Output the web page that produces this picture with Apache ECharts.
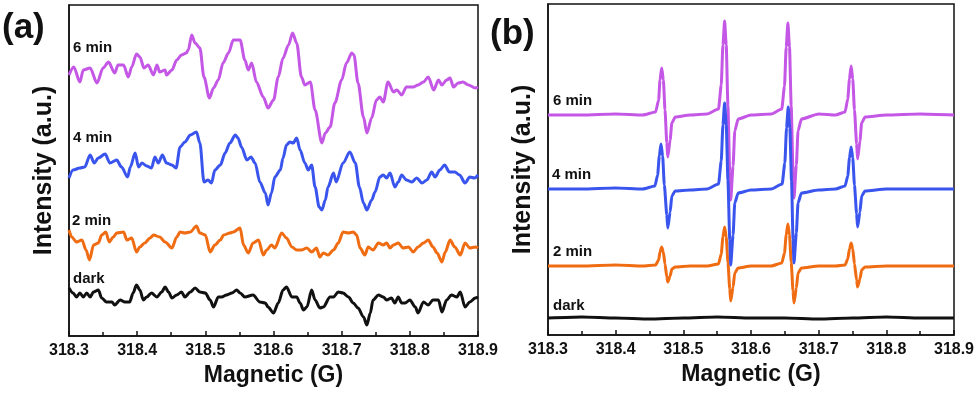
<!DOCTYPE html>
<html>
<head>
<meta charset="utf-8">
<script src="https://cdn.jsdelivr.net/npm/echarts@6/dist/echarts.min.js"></script>
<style>
html, body { margin: 0; padding: 0; background: #fff; }
#chart { width: 980px; height: 396px; }
</style>
</head>
<body>
<div id="chart"></div>
<script>
// x: magnetic field (G), y: intensity (a.u., offset traces)
var seriesNames = ['dark', '2 min', '4 min', '6 min'];
var xTicks = [318.3, 318.4, 318.5, 318.6, 318.7, 318.8, 318.9];

// panel (a)
var a6min = [[318.300,261],[318.307,269],[318.316,254],[318.321,266],[318.331,268],[318.341,253],[318.350,268],[318.358,274],
  [318.367,263],[318.372,271],[318.380,271],[318.387,259],[318.392,269],[318.399,282],[318.404,279],[318.410,268],[318.416,271],
  [318.424,261],[318.429,271],[318.433,264],[318.441,266],[318.443,261],[318.451,266],[318.458,276],[318.465,281],[318.472,283],
  [318.475,286],[318.480,301],[318.485,293],[318.492,288],[318.498,259],[318.506,238],[318.512,248],[318.519,256],[318.526,273],
  [318.534,283],[318.541,296],[318.551,296],[318.558,276],[318.563,266],[318.568,273],[318.575,254],[318.585,239],[318.592,228],
  [318.600,236],[318.607,259],[318.614,278],[318.622,291],[318.628,303],[318.634,293],[318.641,259],[318.646,251],[318.654,254],
  [318.661,226],[318.671,193],[318.676,203],[318.683,209],[318.690,233],[318.700,256],[318.707,273],[318.715,283],[318.718,281],
  [318.724,253],[318.732,219],[318.737,203],[318.744,218],[318.751,236],[318.756,239],[318.761,234],[318.768,254],[318.776,244],
  [318.781,246],[318.788,241],[318.795,249],[318.805,249],[318.812,251],[318.820,254],[318.827,259],[318.835,246],[318.842,256],
  [318.847,251],[318.854,256],[318.859,258],[318.864,249],[318.871,253],[318.878,254],[318.886,251],[318.896,248],[318.900,249]];
var a4min = [[318.300,158],[318.306,166],[318.316,168],[318.323,169],[318.331,181],[318.337,173],[318.343,178],[318.353,182],
  [318.360,173],[318.370,176],[318.377,169],[318.386,159],[318.390,169],[318.397,183],[318.402,169],[318.407,173],[318.414,170],
  [318.421,168],[318.426,179],[318.431,173],[318.437,181],[318.443,173],[318.451,171],[318.457,168],[318.463,189],[318.470,194],
  [318.478,201],[318.487,204],[318.492,193],[318.498,154],[318.504,156],[318.509,153],[318.514,166],[318.522,171],[318.529,183],
  [318.536,193],[318.544,201],[318.548,198],[318.553,189],[318.561,176],[318.567,179],[318.573,173],[318.580,154],[318.588,143],
  [318.592,131],[318.597,143],[318.602,159],[318.610,166],[318.614,178],[318.619,191],[318.624,194],[318.629,193],[318.634,198],
  [318.639,186],[318.646,173],[318.651,166],[318.656,171],[318.661,149],[318.667,129],[318.671,126],[318.676,136],[318.680,149],
  [318.688,163],[318.692,154],[318.702,173],[318.712,184],[318.720,173],[318.726,149],[318.732,133],[318.737,126],[318.744,136],
  [318.749,144],[318.756,159],[318.761,161],[318.766,158],[318.771,163],[318.778,149],[318.783,154],[318.788,161],[318.795,156],
  [318.803,154],[318.810,158],[318.818,153],[318.825,156],[318.832,164],[318.837,159],[318.844,166],[318.851,171],[318.858,164],
  [318.866,164],[318.873,161],[318.881,153],[318.888,159],[318.895,158],[318.900,161]];
var a2min = [[318.300,106],[318.304,99],[318.311,94],[318.319,96],[318.325,86],[318.330,76],[318.336,91],[318.343,93],[318.348,101],
  [318.354,104],[318.359,94],[318.365,99],[318.370,103],[318.380,104],[318.385,96],[318.392,98],[318.399,84],[318.404,89],
  [318.411,93],[318.419,98],[318.424,101],[318.433,99],[318.441,94],[318.451,88],[318.458,99],[318.463,104],[318.470,103],
  [318.478,104],[318.487,110],[318.492,103],[318.500,101],[318.507,84],[318.514,91],[318.522,96],[318.527,101],[318.536,103],
  [318.541,104],[318.551,108],[318.556,91],[318.563,83],[318.570,93],[318.578,96],[318.585,81],[318.590,86],[318.597,91],
  [318.602,88],[318.612,103],[318.619,98],[318.627,89],[318.634,86],[318.641,86],[318.649,88],[318.656,84],[318.663,88],
  [318.668,79],[318.673,83],[318.680,81],[318.688,86],[318.695,93],[318.702,104],[318.710,103],[318.717,104],[318.722,101],
  [318.727,88],[318.734,81],[318.739,89],[318.746,86],[318.754,93],[318.761,91],[318.766,93],[318.771,88],[318.776,91],
  [318.783,93],[318.790,88],[318.798,89],[318.805,84],[318.812,89],[318.820,93],[318.827,96],[318.834,89],[318.840,83],
  [318.847,74],[318.852,84],[318.859,96],[318.866,89],[318.874,81],[318.881,93],[318.888,88],[318.896,89],[318.900,88]];
var aDark = [[318.300,48],[318.306,43],[318.311,39],[318.316,43],[318.321,39],[318.326,43],[318.331,39],[318.336,44],[318.343,46],
  [318.348,38],[318.355,34],[318.363,34],[318.367,31],[318.375,36],[318.382,34],[318.389,34],[318.394,43],[318.399,51],
  [318.404,46],[318.409,36],[318.414,39],[318.421,43],[318.429,39],[318.436,44],[318.441,49],[318.446,44],[318.451,38],
  [318.458,41],[318.465,44],[318.470,39],[318.478,44],[318.485,48],[318.492,44],[318.500,43],[318.507,36],[318.512,29],
  [318.519,39],[318.524,39],[318.531,41],[318.539,43],[318.546,46],[318.551,43],[318.558,39],[318.570,41],[318.580,34],
  [318.588,33],[318.592,29],[318.600,23],[318.607,33],[318.614,46],[318.619,49],[318.627,39],[318.634,39],[318.639,33],
  [318.644,26],[318.649,29],[318.656,46],[318.661,36],[318.668,28],[318.673,29],[318.683,39],[318.688,39],[318.695,44],
  [318.702,43],[318.710,39],[318.717,33],[318.724,28],[318.732,19],[318.737,11],[318.742,23],[318.746,36],[318.754,41],
  [318.761,39],[318.766,36],[318.773,38],[318.778,33],[318.783,39],[318.788,33],[318.793,33],[318.800,36],[318.808,29],
  [318.812,23],[318.820,34],[318.827,31],[318.834,36],[318.842,36],[318.847,24],[318.854,36],[318.861,41],[318.869,39],
  [318.874,44],[318.881,29],[318.888,34],[318.896,38],[318.900,39]];

// panel (b)
var b6min = [[318.300,220],[318.350,220],[318.400,221],[318.440,220],
  [318.459,223],[318.4635,235],[318.4655,255],[318.468,267],[318.4705,255],[318.4729,225],[318.4756,192],[318.477,178],
  [318.4805,195],[318.483,212],[318.488,218],[318.510,220],[318.535,221],
  [318.552,226],[318.556,250],[318.5585,290],[318.561,314],[318.5634,290],[318.5659,229],[318.5686,163],[318.570,135],
  [318.5735,169],[318.576,204],[318.581,216],[318.600,220],[318.630,221],
  [318.6455,226],[318.6495,249],[318.652,288],[318.6545,312],[318.6569,288],[318.6594,229],[318.6621,164],[318.6635,137],
  [318.667,170],[318.6695,204],[318.6745,216],[318.700,221],[318.725,220],
  [318.739,223],[318.743,236],[318.7455,256],[318.748,269],[318.7504,256],[318.7529,225],[318.7561,191],[318.7575,176],
  [318.761,194],[318.7635,212],[318.7685,218],[318.800,220],[318.850,221],[318.900,220]];
var b4min = [[318.300,146],[318.350,146],[318.400,147],[318.440,146],
  [318.458,149],[318.462,160],[318.4645,179],[318.467,191],[318.4694,179],[318.4719,150],[318.4756,120],[318.477,107],
  [318.4805,123],[318.483,139],[318.488,144],[318.510,145],[318.535,146],
  [318.552,151],[318.556,174],[318.5585,210],[318.561,232],[318.5634,210],[318.5659,155],[318.5686,95],[318.570,70],
  [318.5735,100],[318.576,132],[318.581,142],[318.600,145],[318.630,146],
  [318.646,151],[318.650,172],[318.6525,207],[318.655,228],[318.6574,207],[318.6599,154],[318.6621,96],[318.6635,72],
  [318.667,102],[318.6695,132],[318.6745,142],[318.700,145],[318.725,146],
  [318.739,149],[318.743,159],[318.7455,177],[318.748,188],[318.7504,177],[318.7529,150],[318.7561,121],[318.7575,108],
  [318.761,123],[318.7635,139],[318.7685,144],[318.800,146],[318.850,146],[318.900,146]];
var b2min = [[318.300,69],[318.350,69],[318.400,70],[318.440,69],
  [318.459,70],[318.4635,75],[318.4655,83],[318.468,88],[318.4704,83],[318.4729,71],[318.4756,58],[318.477,53],
  [318.4805,59],[318.483,66],[318.488,68],[318.510,69],[318.535,69],
  [318.552,71],[318.556,81],[318.5585,98],[318.561,108],[318.5634,98],[318.5659,73],[318.5686,46],[318.570,34],
  [318.5735,48],[318.576,62],[318.581,67],[318.600,69],[318.630,69],
  [318.6455,72],[318.6495,82],[318.652,100],[318.6545,111],[318.6569,100],[318.6594,73],[318.6621,44],[318.6635,32],
  [318.667,47],[318.6695,62],[318.6745,67],[318.700,69],[318.725,69],
  [318.739,70],[318.743,76],[318.7455,86],[318.748,92],[318.7504,86],[318.7529,71],[318.7561,55],[318.7575,48],
  [318.761,56],[318.7635,65],[318.7685,68],[318.800,69],[318.850,69],[318.900,69]];
var bDark = [[318.300,17],[318.350,18],[318.400,17],[318.450,16],[318.500,17],[318.550,18],[318.600,17],[318.650,17],
  [318.700,16],[318.750,17],[318.800,18],[318.850,17],[318.900,17]];

var colors = ['#111111', '#f06c12', '#3a55ee', '#c457e6'];

var chart = echarts.init(document.getElementById('chart'));
var font = 'Liberation Sans, Arial, sans-serif';

function xAxisFor(i) {
  return {
    type: 'value', gridIndex: i, min: 318.3, max: 318.9, interval: 0.1,
    name: 'Magnetic (G)', nameLocation: 'middle', nameGap: 25,
    nameTextStyle: { fontSize: 23, fontWeight: 'bold', color: '#111', fontFamily: font },
    axisLine: { onZero: false, lineStyle: { color: '#111', width: 1.5 } },
    axisTick: { inside: true, length: 5, lineStyle: { color: '#111', width: 1.5 } },
    minorTick: { show: true, splitNumber: 2, length: 4, lineStyle: { color: '#111', width: 1.5 } },
    axisLabel: {
      margin: 7, fontSize: 16, fontWeight: 'bold', color: '#111', fontFamily: font,
      formatter: function (v) { return v.toFixed(1); }
    },
    splitLine: { show: false }
  };
}
function yAxisFor(i) {
  return {
    type: 'value', gridIndex: i, min: 0, max: 331,
    name: 'Intensity (a.u.)', nameLocation: 'middle', nameGap: 12,
    nameTextStyle: { fontSize: 25, fontWeight: 'bold', color: '#111', fontFamily: font },
    axisLine: { show: true, lineStyle: { color: '#111', width: 1.5 } },
    axisTick: { show: false }, axisLabel: { show: false }, splitLine: { show: false }
  };
}
function line(name, data, idx, color, smooth) {
  return {
    name: name, type: 'line', xAxisIndex: idx, yAxisIndex: idx, data: data,
    showSymbol: false, smooth: smooth, smoothMonotone: 'x',
    lineStyle: { color: color, width: 3 }, itemStyle: { color: color }, animation: false
  };
}
function label(txt, x, y, size) {
  return {
    type: 'text', left: x, top: y,
    style: { text: txt, fill: '#111', font: 'bold ' + size + 'px ' + font }
  };
}

var option = {
  animation: false,
  backgroundColor: '#fff',
  grid: [
    { left: 69, top: 5, width: 409, height: 331, show: true, borderColor: '#111', borderWidth: 1.5 },
    { left: 548, top: 4, width: 406, height: 331, show: true, borderColor: '#111', borderWidth: 1.5 }
  ],
  xAxis: [xAxisFor(0), xAxisFor(1)],
  yAxis: [yAxisFor(0), yAxisFor(1)],
  series: [
    line(seriesNames[0], aDark, 0, colors[0], 0.3),
    line(seriesNames[1], a2min, 0, colors[1], 0.3),
    line(seriesNames[2], a4min, 0, colors[2], 0.3),
    line(seriesNames[3], a6min, 0, colors[3], 0.3),
    line(seriesNames[0], bDark, 1, colors[0], 0.2),
    line(seriesNames[1], b2min, 1, colors[1], 0.2),
    line(seriesNames[3], b6min, 1, colors[3], 0.2),
    line(seriesNames[2], b4min, 1, colors[2], 0.2)
  ],
  graphic: [
    label('(a)', 2, 11, 35),
    label('(b)', 490, 17, 35),
    label('6 min', 73, 40, 15),
    label('4 min', 73, 130, 15),
    label('2 min', 72, 213, 15),
    label('dark', 73, 271, 15),
    label('6 min', 553, 93, 15),
    label('4 min', 552, 167, 15),
    label('2 min', 553, 244, 15),
    label('dark', 553, 298, 15)
  ]
};
chart.setOption(option);
</script>
</body>
</html>
